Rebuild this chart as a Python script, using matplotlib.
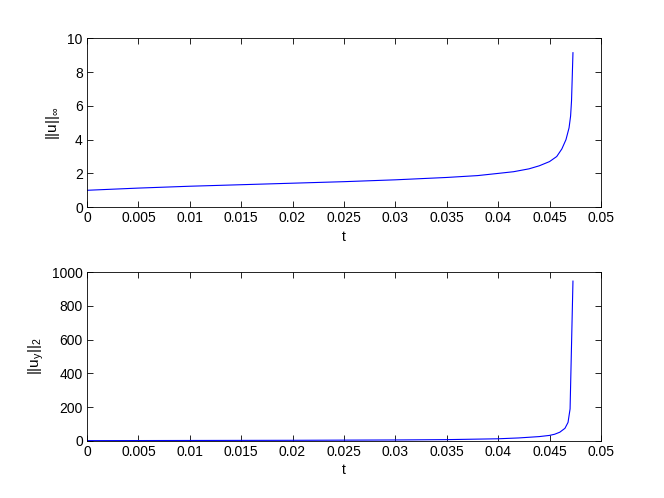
import matplotlib
matplotlib.use("Agg")
import matplotlib.pyplot as plt

plt.rcParams['font.family'] = ['Liberation Sans', 'DejaVu Sans']

# Top panel: ||u||_inf versus t
t_top = [0.0, 0.005, 0.01, 0.015, 0.02, 0.025, 0.03, 0.035, 0.038, 0.040,
         0.0415, 0.043, 0.044, 0.045, 0.0457, 0.0462, 0.0466, 0.0469,
         0.04705, 0.04714, 0.0472, 0.04728]
u_inf = [1.00, 1.13, 1.24, 1.33, 1.42, 1.51, 1.62, 1.76, 1.87, 2.00,
         2.10, 2.27, 2.45, 2.70, 3.00, 3.45, 4.00, 4.70,
         5.40, 6.30, 7.50, 9.15]

# Bottom panel: ||u_y||_2 versus t
t_bot = [0.0, 0.01, 0.02, 0.03, 0.035, 0.04, 0.042, 0.044, 0.045, 0.0455,
         0.046, 0.0465, 0.0468, 0.0470, 0.04728]
uy_2 = [2, 3, 4, 6, 8, 13, 18, 26, 33, 40,
        52, 75, 110, 190, 947]

x_ticks = [0, 0.005, 0.01, 0.015, 0.02, 0.025, 0.03, 0.035, 0.04, 0.045, 0.05]
x_ticklabels = ['0', '0.005', '0.01', '0.015', '0.02', '0.025', '0.03',
                '0.035', '0.04', '0.045', '0.05']
top_yticks = [0, 2, 4, 6, 8, 10]
bot_yticks = [0, 200, 400, 600, 800, 1000]

fig = plt.figure(figsize=(6.64, 4.98), dpi=100)
ax1 = fig.add_axes([0.131, 0.584, 0.774, 0.339])
ax2 = fig.add_axes([0.131, 0.1145, 0.774, 0.339])

fs = 10
for ax, t, v, yt, ylab in [(ax1, t_top, u_inf, top_yticks, r'$\mathregular{||u||_{\infty}}$'),
                            (ax2, t_bot, uy_2, bot_yticks, r'$\mathregular{||u_y||_2}$')]:
    ax.plot(t, v, color=(0, 0, 1), linewidth=0.8)
    ax.set_xlim(0, 0.05)
    ax.set_ylim(yt[0], yt[-1])
    ax.set_xticks(x_ticks)
    ax.set_xticklabels(x_ticklabels)
    ax.set_yticks(yt)
    ax.tick_params(direction='in', top=True, right=True, labelsize=fs,
                   length=4, width=0.6, pad=3)
    for s in ax.spines.values():
        s.set_linewidth(0.6)
    ax.set_xlabel('t', fontsize=fs, labelpad=3)
    ax.set_ylabel(ylab, fontsize=fs + 1, labelpad=4)

fig.savefig('out.png', dpi=100)
